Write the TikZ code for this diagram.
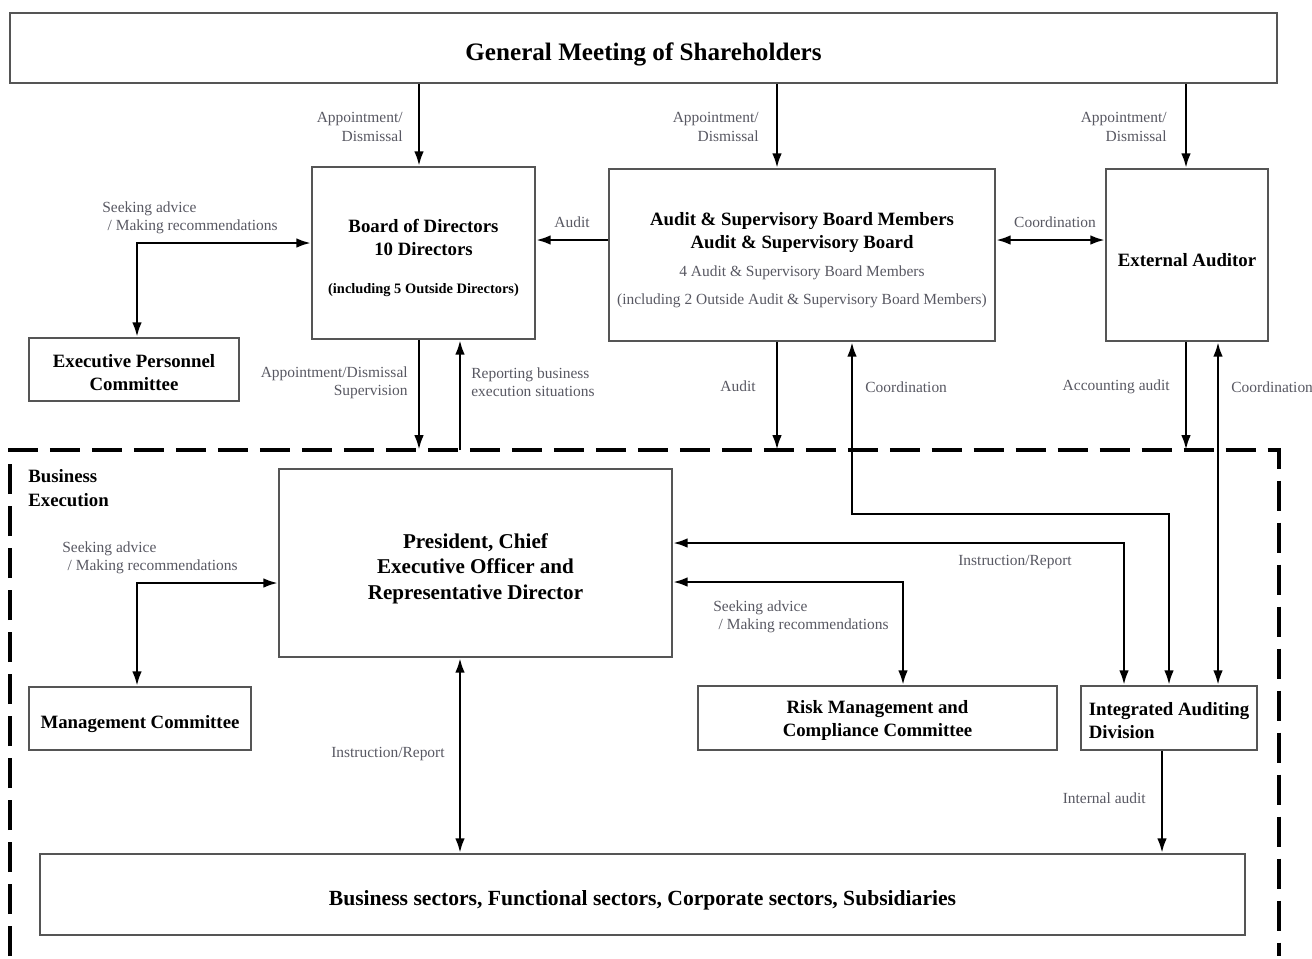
\documentclass[tikz,border=0pt]{standalone}
\usepackage{fontspec}
\setmainfont{Liberation Serif}
\usetikzlibrary{arrows.meta, positioning}
\definecolor{labelgray}{RGB}{88,88,98}
\definecolor{boxgray}{RGB}{85,85,85}
\newcommand{\mysubline}[1]{{\normalfont\fontsize{8.8}{10}\selectfont\color{labelgray}#1}}
\newcommand{\mystrut}[1][1.25em]{\rule{0pt}{#1}}

\begin{document}
\begin{tikzpicture}[x=0.02cm, y=-0.02cm,
                    my box/.style={
                      draw=boxgray, line width=0.9pt, align=center, inner sep=0pt,
                      font=\bfseries\fontsize{10.7}{13}\selectfont,
                      execute at begin node={\mystrut}},
                    my big/.style={font=\bfseries\fontsize{12}{14.5}\selectfont},
                    my label/.style={
                      text=labelgray, inner sep=0pt,
                      font=\fontsize{8.8}{10.5}\selectfont},
                    my arrow/.style={
                      -{Latex[length=8.5pt, width=5.5pt]}, line width=1.6pt},
                    my twoway/.style={
                      {Latex[length=8.5pt, width=5.5pt]}-{Latex[length=8.5pt, width=5.5pt]},
                      line width=1.6pt},
                    my frame/.style={line width=2.2pt, dash pattern=on 0.6cm off 0.24cm}]

\useasboundingbox (0,0) rectangle (1312,958);

% boxes
\node[my box, minimum width=25.34cm, minimum height=1.4cm,
      font=\bfseries\fontsize{14.3}{16}\selectfont] (gm) at (643.5,48)
  {General Meeting of Shareholders};
\node[my box, minimum width=4.46cm, minimum height=3.44cm] (bod) at (423.5,253)
  {\mystrut Board of Directors\\10 Directors\\[9pt]
   {\fontsize{8.2}{10}\selectfont (including 5 Outside Directors)}};
\node[my box, minimum width=7.72cm, minimum height=3.44cm] (asb) at (802,255)
  {\mystrut Audit \& Supervisory Board Members\\Audit \& Supervisory Board\\[3pt]
   \mysubline{4 Audit \& Supervisory Board Members}\\[2.5pt]
   \mysubline{(including 2 Outside Audit \& Supervisory Board Members)}};
\node[my box, minimum width=3.24cm, minimum height=3.44cm,
      execute at begin node={\mystrut[1.05em]}] (ext) at (1187,255)
  {External Auditor};
\node[my box, minimum width=4.2cm, minimum height=1.26cm] (epc) at (134,369.5)
  {\mystrut[1em]Executive Personnel\\Committee};
\node[my box, my big, minimum width=7.86cm, minimum height=3.76cm] (pres) at (475.5,563)
  {\mystrut President, Chief\\Executive Officer and\\Representative Director};
\node[my box, minimum width=4.44cm, minimum height=1.26cm] (mc) at (140,718.5)
  {Management Committee};
\node[my box, minimum width=7.18cm, minimum height=1.28cm] (risk) at (877.5,718)
  {\mystrut[1em]Risk Management and\\Compliance Committee};
\node[my box, align=left, minimum width=3.52cm, minimum height=1.28cm] (iad) at (1169,718)
  {\mystrut[1em]Integrated Auditing\\Division};
\node[my box, font=\bfseries\fontsize{12.3}{14.5}\selectfont,
      minimum width=24.1cm, minimum height=1.62cm] (biz) at (642.5,894.5)
  {Business sectors, Functional sectors, Corporate sectors, Subsidiaries};

% business execution frame
\coordinate (frame top) at (0,450);
\draw[my frame] (10,956) |- (1279,450) -- (1279,956);
\node[align=left, anchor=north west, inner sep=0pt,
      font=\bfseries\fontsize{10.7}{13.5}\selectfont] (exec) at (28,469)
  {Business\\Execution};

% columns and rows of the connectors
\coordinate (col bod)    at (419,0);
\coordinate (col report) at (460,0);
\coordinate (col asb)    at (777,0);
\coordinate (col coord)  at (852,0);
\coordinate (col risk)   at (903,0);
\coordinate (col instr)  at (1124,0);
\coordinate (col int)    at (1162,0);
\coordinate (col iad)    at (1169,0);
\coordinate (col ext)    at (1186,0);
\coordinate (col extup)  at (1218,0);
\coordinate (row top)    at (0,240);
\coordinate (row coord)  at (0,514);
\coordinate (row instr)  at (0,543);
\coordinate (row risk)   at (0,582);
\coordinate (adv top)    at (137,243);
\coordinate (adv low)    at (137,583);

\draw[my arrow] (col bod |- gm.south) -- (col bod |- bod.north);
\draw[my arrow] (col asb |- gm.south) -- (col asb |- asb.north);
\draw[my arrow] (col ext |- gm.south) -- (col ext |- ext.north);
\draw[my arrow] (row top -| asb.west) -- (row top -| bod.east);
\draw[my twoway] (row top -| asb.east) -- (row top -| ext.west);
\draw[my twoway] (adv top -| bod.west) -- (adv top) -- (adv top |- epc.north);

\draw[my arrow] (col bod |- bod.south) -- (col bod |- frame top);
\draw[my arrow] (col report |- frame top) -- (col report |- bod.south);
\draw[my arrow] (col asb |- asb.south) -- (col asb |- frame top);
\draw[my twoway] (col coord |- asb.south) -- (col coord |- row coord)
                 -| (col iad |- iad.north);
\draw[my arrow] (col ext |- ext.south) -- (col ext |- frame top);
\draw[my twoway] (col extup |- ext.south) -- (col extup |- iad.north);

\draw[my twoway] (row instr -| pres.east) -| (col instr |- iad.north);
\draw[my twoway] (row risk -| pres.east) -| (col risk |- risk.north);
\draw[my twoway] (adv low -| pres.west) -- (adv low) -- (adv low |- mc.north);
\draw[my twoway] (col report |- pres.south) -- (col report |- biz.north);
\draw[my arrow] (col int |- iad.south) -- (col int |- biz.north);

% labels
\node[my label, align=right, anchor=east] (l gm bod) at (403,127) {Appointment/\\Dismissal};
\node[my label, align=right, anchor=east] (l gm asb) at (759,127) {Appointment/\\Dismissal};
\node[my label, align=right, anchor=east] (l gm ext) at (1167,127) {Appointment/\\Dismissal};
\node[my label, align=left, anchor=west] (l epc) at (102,218)
  {Seeking advice\\\hspace{3pt}/ Making recommendations};
\node[my label] (l audit top) at (572,222) {Audit};
\node[my label] (l coord top) at (1055,222) {Coordination};
\node[my label, align=right, anchor=east] (l appoint) at (408,383)
  {Appointment/Dismissal\\Supervision};
\node[my label, align=left, anchor=west] (l report) at (471,382)
  {Reporting business\\execution situations};
\node[my label] (l audit low) at (738,386) {Audit};
\node[my label, anchor=west] (l coord mid) at (865,387) {Coordination};
\node[my label, anchor=east] (l account) at (1170,387) {Accounting audit};
\node[my label, anchor=west] (l coord ext) at (1231,387) {Coordination};
\node[my label, align=left, anchor=west] (l mc) at (62,558)
  {Seeking advice\\\hspace{3pt}/ Making recommendations};
\node[my label] (l instr) at (1015,562) {Instruction/Report};
\node[my label, align=left, anchor=west] (l risk) at (713,617)
  {Seeking advice\\\hspace{3pt}/ Making recommendations};
\node[my label, anchor=east] (l instr low) at (445,754) {Instruction/Report};
\node[my label, anchor=east] (l internal) at (1146,798) {Internal audit};
\end{tikzpicture}
\end{document}
